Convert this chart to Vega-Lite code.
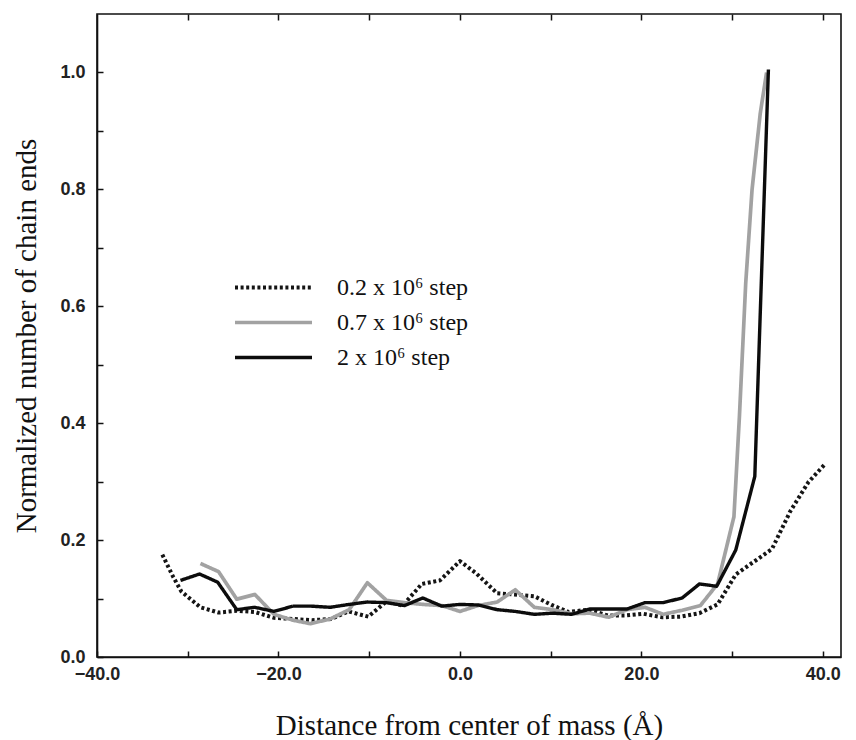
{
  "$schema": "https://vega.github.io/schema/vega-lite/v6.json",
  "width": 744,
  "height": 643,
  "autosize": {"type": "none"},
  "padding": {"left": 97, "top": 14, "right": 15, "bottom": 83},
  "background": "white",
  "config": {
    "view": {"stroke": "#111", "strokeWidth": 1.6},
    "axis": {
      "domainColor": "#111", "domainWidth": 1.6, "tickColor": "#111", "tickWidth": 1.5,
      "grid": false, "labelFont": "Liberation Sans", "labelFontSize": 18, "labelFontWeight": "bold", "labelColor": "#222",
      "labelFlush": false,
      "titleFont": "Liberation Serif", "titleFontSize": 29, "titleFontWeight": "normal", "titleColor": "#111"
    }
  },
  "data": {"values": [
    {"series": "0.2 x 10⁶ step", "x": -32.8, "y": 0.175},
    {"series": "0.2 x 10⁶ step", "x": -31.6, "y": 0.137},
    {"series": "0.2 x 10⁶ step", "x": -30.7, "y": 0.112},
    {"series": "0.2 x 10⁶ step", "x": -28.6, "y": 0.085},
    {"series": "0.2 x 10⁶ step", "x": -26.6, "y": 0.076},
    {"series": "0.2 x 10⁶ step", "x": -24.6, "y": 0.079},
    {"series": "0.2 x 10⁶ step", "x": -22.6, "y": 0.077},
    {"series": "0.2 x 10⁶ step", "x": -20.5, "y": 0.067},
    {"series": "0.2 x 10⁶ step", "x": -18.4, "y": 0.065},
    {"series": "0.2 x 10⁶ step", "x": -16.3, "y": 0.063},
    {"series": "0.2 x 10⁶ step", "x": -14.2, "y": 0.065},
    {"series": "0.2 x 10⁶ step", "x": -12.3, "y": 0.078},
    {"series": "0.2 x 10⁶ step", "x": -10.1, "y": 0.069},
    {"series": "0.2 x 10⁶ step", "x": -8.1, "y": 0.095},
    {"series": "0.2 x 10⁶ step", "x": -6.3, "y": 0.088},
    {"series": "0.2 x 10⁶ step", "x": -4.2, "y": 0.125},
    {"series": "0.2 x 10⁶ step", "x": -2.2, "y": 0.131},
    {"series": "0.2 x 10⁶ step", "x": 0.0, "y": 0.164},
    {"series": "0.2 x 10⁶ step", "x": 1.8, "y": 0.143},
    {"series": "0.2 x 10⁶ step", "x": 4.1, "y": 0.109},
    {"series": "0.2 x 10⁶ step", "x": 6.0, "y": 0.107},
    {"series": "0.2 x 10⁶ step", "x": 8.2, "y": 0.104},
    {"series": "0.2 x 10⁶ step", "x": 10.1, "y": 0.089},
    {"series": "0.2 x 10⁶ step", "x": 12.0, "y": 0.077},
    {"series": "0.2 x 10⁶ step", "x": 14.2, "y": 0.081},
    {"series": "0.2 x 10⁶ step", "x": 16.3, "y": 0.071},
    {"series": "0.2 x 10⁶ step", "x": 18.2, "y": 0.071},
    {"series": "0.2 x 10⁶ step", "x": 20.2, "y": 0.074},
    {"series": "0.2 x 10⁶ step", "x": 22.3, "y": 0.068},
    {"series": "0.2 x 10⁶ step", "x": 24.3, "y": 0.069},
    {"series": "0.2 x 10⁶ step", "x": 26.4, "y": 0.075},
    {"series": "0.2 x 10⁶ step", "x": 28.4, "y": 0.090},
    {"series": "0.2 x 10⁶ step", "x": 30.4, "y": 0.141},
    {"series": "0.2 x 10⁶ step", "x": 32.4, "y": 0.163},
    {"series": "0.2 x 10⁶ step", "x": 34.4, "y": 0.185},
    {"series": "0.2 x 10⁶ step", "x": 36.4, "y": 0.249},
    {"series": "0.2 x 10⁶ step", "x": 38.4, "y": 0.299},
    {"series": "0.2 x 10⁶ step", "x": 40.3, "y": 0.331},
    {"series": "0.7 x 10⁶ step", "x": -28.6, "y": 0.160},
    {"series": "0.7 x 10⁶ step", "x": -26.6, "y": 0.146},
    {"series": "0.7 x 10⁶ step", "x": -24.6, "y": 0.099},
    {"series": "0.7 x 10⁶ step", "x": -22.6, "y": 0.107},
    {"series": "0.7 x 10⁶ step", "x": -20.5, "y": 0.073},
    {"series": "0.7 x 10⁶ step", "x": -18.4, "y": 0.063},
    {"series": "0.7 x 10⁶ step", "x": -16.5, "y": 0.057},
    {"series": "0.7 x 10⁶ step", "x": -14.3, "y": 0.065},
    {"series": "0.7 x 10⁶ step", "x": -12.2, "y": 0.081},
    {"series": "0.7 x 10⁶ step", "x": -10.2, "y": 0.127},
    {"series": "0.7 x 10⁶ step", "x": -8.1, "y": 0.097},
    {"series": "0.7 x 10⁶ step", "x": -6.1, "y": 0.093},
    {"series": "0.7 x 10⁶ step", "x": -4.1, "y": 0.090},
    {"series": "0.7 x 10⁶ step", "x": -2.0, "y": 0.088},
    {"series": "0.7 x 10⁶ step", "x": 0.0, "y": 0.078},
    {"series": "0.7 x 10⁶ step", "x": 2.0, "y": 0.088},
    {"series": "0.7 x 10⁶ step", "x": 4.1, "y": 0.094},
    {"series": "0.7 x 10⁶ step", "x": 6.1, "y": 0.115},
    {"series": "0.7 x 10⁶ step", "x": 8.2, "y": 0.085},
    {"series": "0.7 x 10⁶ step", "x": 10.2, "y": 0.081},
    {"series": "0.7 x 10⁶ step", "x": 12.3, "y": 0.074},
    {"series": "0.7 x 10⁶ step", "x": 14.3, "y": 0.075},
    {"series": "0.7 x 10⁶ step", "x": 16.4, "y": 0.068},
    {"series": "0.7 x 10⁶ step", "x": 18.4, "y": 0.081},
    {"series": "0.7 x 10⁶ step", "x": 20.4, "y": 0.085},
    {"series": "0.7 x 10⁶ step", "x": 22.4, "y": 0.073},
    {"series": "0.7 x 10⁶ step", "x": 24.5, "y": 0.080},
    {"series": "0.7 x 10⁶ step", "x": 26.5, "y": 0.088},
    {"series": "0.7 x 10⁶ step", "x": 28.4, "y": 0.125},
    {"series": "0.7 x 10⁶ step", "x": 30.2, "y": 0.240},
    {"series": "0.7 x 10⁶ step", "x": 30.8, "y": 0.410},
    {"series": "0.7 x 10⁶ step", "x": 31.5, "y": 0.640},
    {"series": "0.7 x 10⁶ step", "x": 32.2, "y": 0.800},
    {"series": "0.7 x 10⁶ step", "x": 33.1, "y": 0.930},
    {"series": "0.7 x 10⁶ step", "x": 33.8, "y": 1.000},
    {"series": "2 x 10⁶ step", "x": -30.8, "y": 0.131},
    {"series": "2 x 10⁶ step", "x": -28.7, "y": 0.142},
    {"series": "2 x 10⁶ step", "x": -26.7, "y": 0.128},
    {"series": "2 x 10⁶ step", "x": -24.6, "y": 0.081},
    {"series": "2 x 10⁶ step", "x": -22.6, "y": 0.085},
    {"series": "2 x 10⁶ step", "x": -20.5, "y": 0.078},
    {"series": "2 x 10⁶ step", "x": -18.4, "y": 0.087},
    {"series": "2 x 10⁶ step", "x": -16.4, "y": 0.087},
    {"series": "2 x 10⁶ step", "x": -14.3, "y": 0.085},
    {"series": "2 x 10⁶ step", "x": -12.2, "y": 0.090},
    {"series": "2 x 10⁶ step", "x": -10.2, "y": 0.094},
    {"series": "2 x 10⁶ step", "x": -8.1, "y": 0.093},
    {"series": "2 x 10⁶ step", "x": -6.1, "y": 0.088},
    {"series": "2 x 10⁶ step", "x": -4.1, "y": 0.101},
    {"series": "2 x 10⁶ step", "x": -2.0, "y": 0.087},
    {"series": "2 x 10⁶ step", "x": 0.0, "y": 0.090},
    {"series": "2 x 10⁶ step", "x": 2.0, "y": 0.089},
    {"series": "2 x 10⁶ step", "x": 4.1, "y": 0.081},
    {"series": "2 x 10⁶ step", "x": 6.1, "y": 0.078},
    {"series": "2 x 10⁶ step", "x": 8.2, "y": 0.073},
    {"series": "2 x 10⁶ step", "x": 10.2, "y": 0.075},
    {"series": "2 x 10⁶ step", "x": 12.3, "y": 0.073},
    {"series": "2 x 10⁶ step", "x": 14.3, "y": 0.082},
    {"series": "2 x 10⁶ step", "x": 16.4, "y": 0.082},
    {"series": "2 x 10⁶ step", "x": 18.4, "y": 0.082},
    {"series": "2 x 10⁶ step", "x": 20.4, "y": 0.093},
    {"series": "2 x 10⁶ step", "x": 22.4, "y": 0.093},
    {"series": "2 x 10⁶ step", "x": 24.5, "y": 0.101},
    {"series": "2 x 10⁶ step", "x": 26.4, "y": 0.125},
    {"series": "2 x 10⁶ step", "x": 28.3, "y": 0.121},
    {"series": "2 x 10⁶ step", "x": 30.4, "y": 0.183},
    {"series": "2 x 10⁶ step", "x": 32.5, "y": 0.309},
    {"series": "2 x 10⁶ step", "x": 34.0, "y": 1.005}
  ]},
  "layer": [
    {
      "mark": {"type": "line", "strokeCap": "butt", "strokeJoin": "round", "clip": true},
      "encoding": {
        "x": {"field": "x", "type": "quantitative",
          "scale": {"domain": [-40, 42], "nice": false, "zero": false},
          "axis": {"orient": "bottom", "title": "Distance from center of mass (Å)",
            "values": [-40, -30, -20, -10, 0, 10, 20, 30, 40],
            "labelExpr": "datum.value % 20 == 0 ? format(datum.value, '.1f') : ''",
            "tickSize": -6, "labelPadding": 14, "titlePadding": 28}},
        "y": {"field": "y", "type": "quantitative",
          "scale": {"domain": [0, 1.1], "nice": false},
          "axis": {"title": "Normalized number of chain ends",
            "values": [0, 0.1, 0.2, 0.3, 0.4, 0.5, 0.6, 0.7, 0.8, 0.9, 1.0],
            "labelExpr": "round(datum.value * 10) % 2 == 0 ? format(datum.value, '.1f') : ''",
            "tickSize": -6, "labelPadding": 18, "titlePadding": 18}},
        "color": {"field": "series", "type": "nominal",
          "scale": {"domain": ["0.2 x 10⁶ step", "0.7 x 10⁶ step", "2 x 10⁶ step"], "range": ["#151515", "#a2a2a2", "#0c0c0c"]},
          "legend": {"orient": "none", "legendX": 136, "legendY": 256, "title": null,
            "symbolType": "stroke", "symbolSize": 5929, "labelFont": "Liberation Serif", "labelFontSize": 24,
            "labelColor": "#111", "labelOffset": 23, "padding": 0, "rowPadding": 0, "clipHeight": 35,
            "labelExpr": "datum.label == '2 x 10⁶ step' ? '\u00a0\u00a0\u00a0\u00a02 x 10⁶ step' : datum.label"}},
        "strokeDash": {"field": "series", "type": "nominal",
          "scale": {"domain": ["0.2 x 10⁶ step", "0.7 x 10⁶ step", "2 x 10⁶ step"], "range": [[3, 2.6], [1, 0], [1, 0]]},
          "legend": null},
        "strokeWidth": {"field": "series", "type": "nominal",
          "scale": {"domain": ["0.2 x 10⁶ step", "0.7 x 10⁶ step", "2 x 10⁶ step"], "range": [4, 3.4, 5]},
          "legend": null}
      }
    },
    {
      "mark": {"type": "point", "opacity": 0},
      "encoding": {
        "x": {"field": "x", "type": "quantitative",
          "axis": {"orient": "top", "title": null, "labels": false, "domain": false,
            "values": [-30, -20, -10, 0, 10, 20, 30, 40], "tickSize": -6}}
      }
    }
  ],
  "resolve": {"axis": {"x": "independent"}}
}
